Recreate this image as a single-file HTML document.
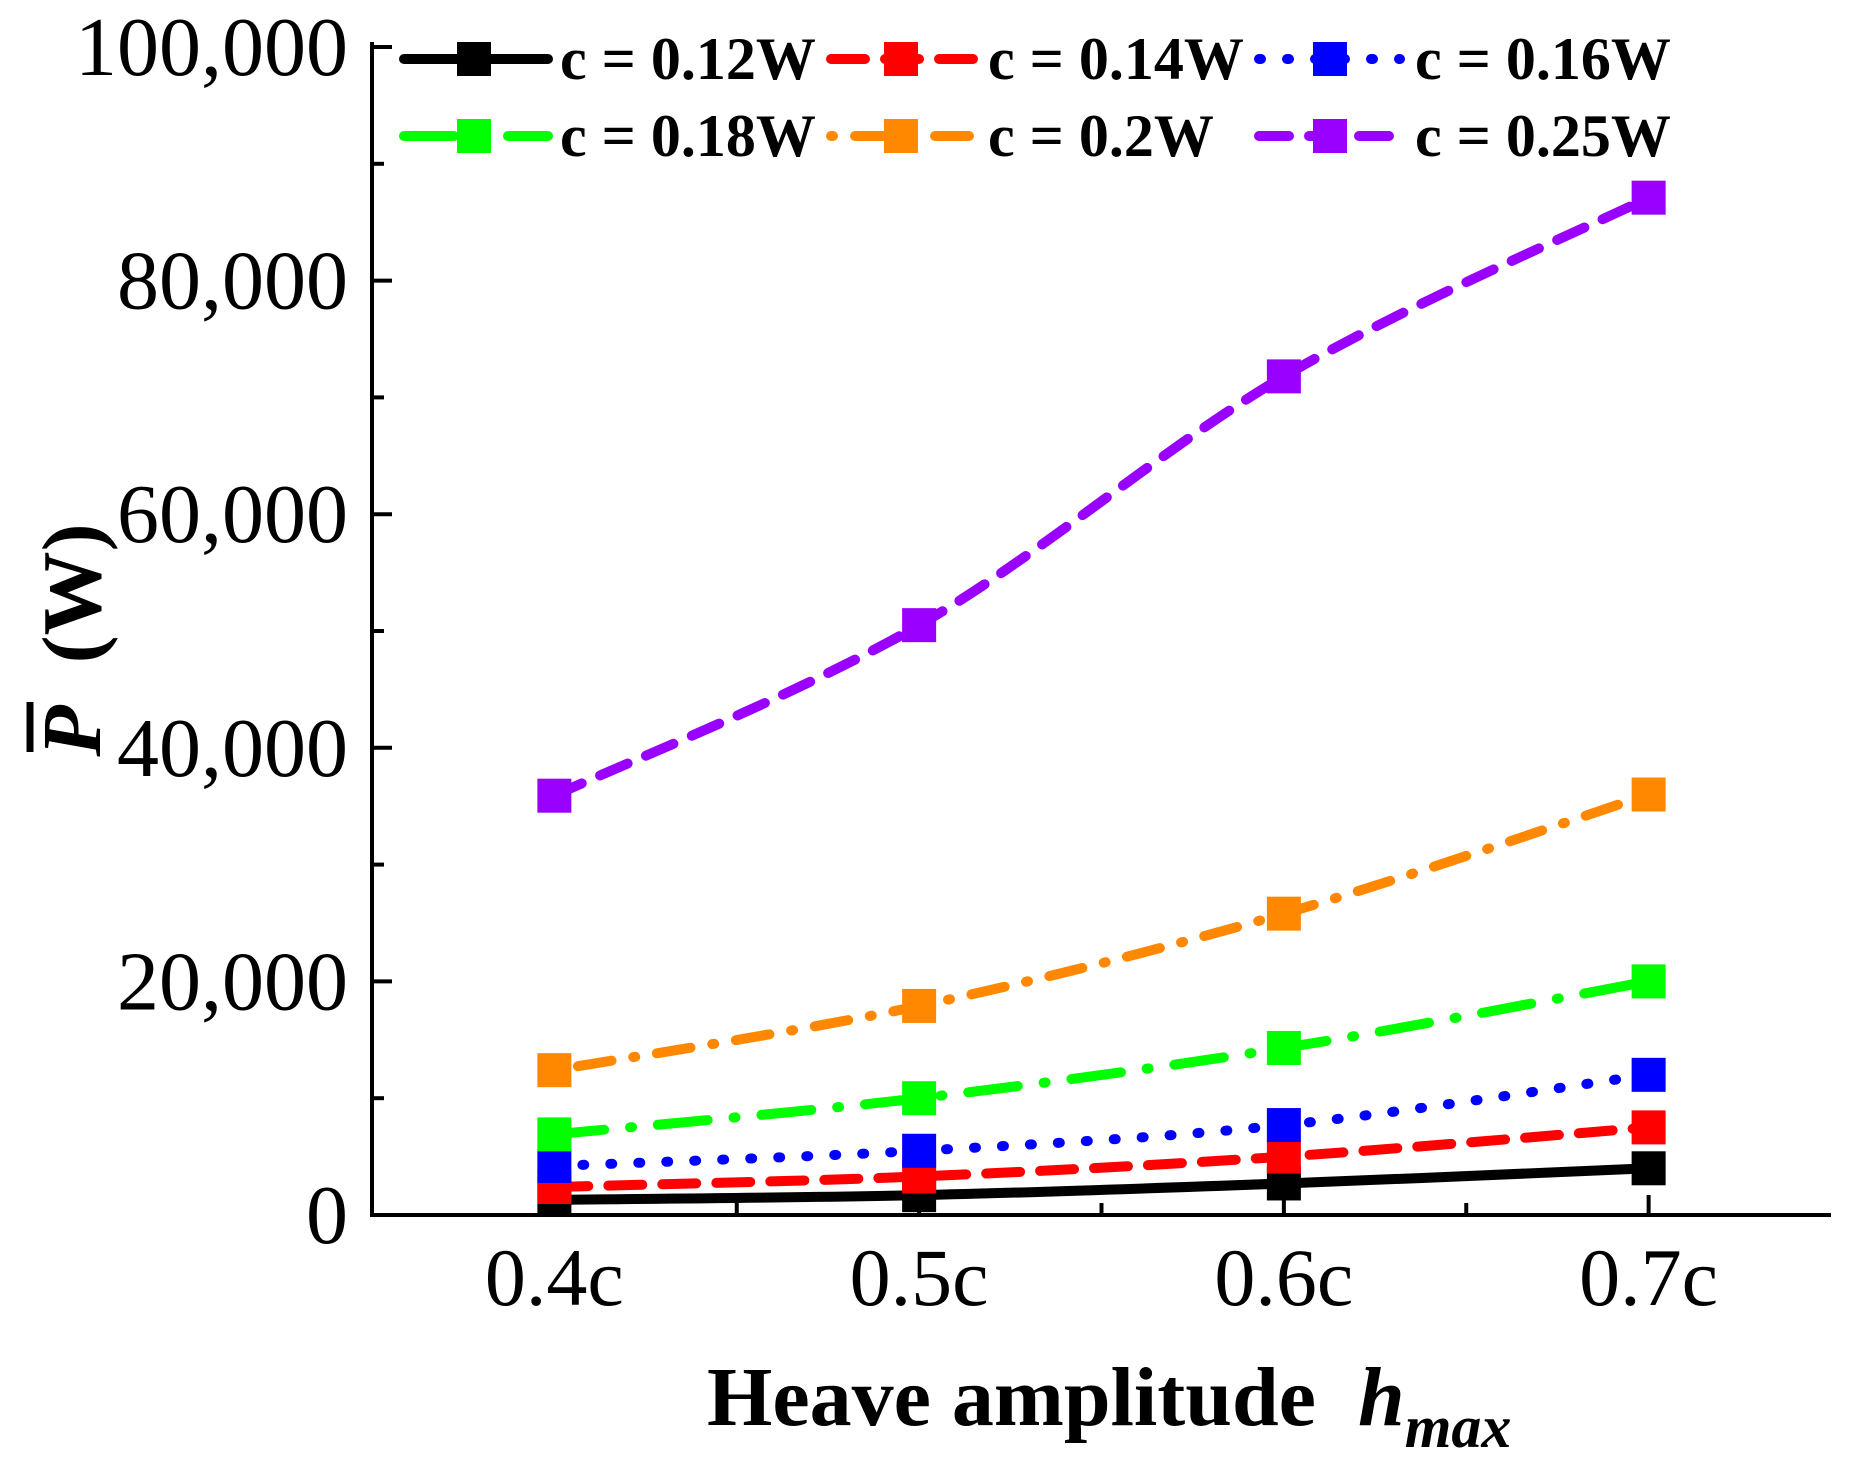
<!DOCTYPE html>
<html><head><meta charset="utf-8"><style>
html,body{margin:0;padding:0;background:#fff}
svg{display:block}
text{font-family:"Liberation Serif",serif}
</style></head><body>
<svg id="chart" width="1849" height="1463" viewBox="0 0 1849 1463" xmlns="http://www.w3.org/2000/svg">
<g id="axes"></g>
<g id="series"></g>
<g id="legend"></g>
<text x="707" y="1425" font-size="84" font-weight="bold" xml:space="preserve">Heave amplitude  <tspan font-style="italic">h</tspan><tspan font-style="italic" font-size="60" dy="22">max</tspan></text>
<g transform="translate(100,640) rotate(-90)">
<text text-anchor="middle" font-size="84" font-weight="bold" xml:space="preserve"><tspan font-style="italic">P</tspan>  (W)</text>
<line x1="-112" y1="-70" x2="-62" y2="-70" stroke="#000" stroke-width="7"/>
</g>
</svg>
<script>
const categories = ["0.4c","0.5c","0.6c","0.7c"];
const catPos = [0.4,0.5,0.6,0.7];
const yTicks = [0,20000,40000,60000,80000,100000];
const yTickLabels = ["0","20,000","40,000","60,000","80,000","100,000"];
const seriesNames = ["c = 0.12W","c = 0.14W","c = 0.16W","c = 0.18W","c = 0.2W","c = 0.25W"];
const s012 = [1300,1700,2700,4000];
const s014 = [2400,3300,5000,7500];
const s016 = [4200,5500,7700,12000];
const s018 = [6900,10000,14300,20000];
const s020 = [12400,17900,25800,36000];
const s025 = [35900,50500,71800,87100];
const colors = ["#000000","#ff0000","#0000ff","#00ff00","#ff8800","#9900ff"];
const dashes = ["", "34 20", "2 26", "50 26 2 26", "2 22 34 22", "30 20"];

const NS="http://www.w3.org/2000/svg";
const X0=372, X1=1831, Y0=1215, Y1=47;
function xs(v){return X0+(v-0.35)/(0.75-0.35)*(X1-X0);}
function ys(v){return Y0-v/100000*(Y0-Y1);}
function mk(tag,attrs,parent){const e=document.createElementNS(NS,tag);for(const k in attrs)e.setAttribute(k,attrs[k]);parent.appendChild(e);return e;}

const axes=document.getElementById('axes');
let el=mk('line',{x1:X0,y1:Y1-5,x2:X0,y2:Y0+2,stroke:'#000','stroke-width':4},axes);


el=mk('line',{x1:X0-2,y1:Y0,x2:X1,y2:Y0,stroke:'#000','stroke-width':4},axes);


for(let i=0;i<=10;i++){
  const v=i*10000, y=ys(v), len=(i%2==0)?20:12;
  el=mk('line',{x1:X0,y1:y,x2:X0+len,y2:y,stroke:'#000','stroke-width':4},axes);
  
  
}
yTicks.forEach((v,i)=>{
  el=mk('text',{x:348,y:ys(v)+28,'font-size':84,'text-anchor':'end'},axes);
  el.textContent=yTickLabels[i];
  
  
});
for(let i=0;i<8;i++){
  const v=0.35+0.05*i; if(v<0.36) continue;
  const major=(i%2==1);
  el=mk('line',{x1:xs(v),y1:Y0,x2:xs(v),y2:Y0-(major?20:12),stroke:'#000','stroke-width':4},axes);
  
  
}
categories.forEach((c,i)=>{
  el=mk('text',{x:xs(catPos[i]),y:1305,'font-size':82,'text-anchor':'middle'},axes);
  el.textContent=c;
  
  
});

function smoothPath(pts){
  let d='M'+pts[0][0]+','+pts[0][1];
  for(let i=0;i<pts.length-1;i++){
    const p0=pts[i-1]||pts[i],p1=pts[i],p2=pts[i+1],p3=pts[i+2]||p2;
    const c1=[p1[0]+(p2[0]-p0[0])/6,p1[1]+(p2[1]-p0[1])/6];
    const c2=[p2[0]-(p3[0]-p1[0])/6,p2[1]-(p3[1]-p1[1])/6];
    d+=' C'+c1[0]+','+c1[1]+' '+c2[0]+','+c2[1]+' '+p2[0]+','+p2[1];
  }
  return d;
}
const allSeries=[s012,s014,s016,s018,s020,s025];
const sg=document.getElementById('series');
const M=34;
allSeries.forEach((vals,si)=>{
  const g=mk('g',{},sg);
  
  
  const pts=vals.map((v,i)=>[xs(catPos[i]),ys(v)]);
  const p=mk('path',{d:smoothPath(pts),fill:'none',stroke:colors[si],'stroke-width':10,'stroke-linecap':'round','stroke-dasharray':dashes[si]},g);
  
  
  pts.forEach(pt=>{
    const r=mk('rect',{x:pt[0]-M/2,y:pt[1]-M/2,width:M,height:M,fill:colors[si]},g);
    
    
  });
});

const lg=document.getElementById('legend');
const colLine=[[404,548],[831,979],[1259,1330]];
const colText=[560,988,1415];
const rowY=[59,136];
seriesNames.forEach((n,i)=>{
  const col=i%3,row=Math.floor(i/3),y=rowY[row];
  const g=mk('g',{},lg);
  
  
  const lx1=colLine[col][0], lx2=(col==2)?1400:colLine[col][1];
  const l=mk('line',{x1:lx1,y1:y,x2:lx2,y2:y,stroke:colors[i],'stroke-width':10,'stroke-linecap':'round','stroke-dasharray':dashes[i]},g);
  
  
  const mx=(col==2)?1330:(lx1+70);
  const r=mk('rect',{x:mx-M/2,y:y-M/2,width:M,height:M,fill:colors[i]},g);
  
  
  const t=mk('text',{x:colText[col],y:y+20,'font-size':60,'font-weight':'bold'},g);
  t.textContent=n;
  
  
});
</script>
</body></html>
